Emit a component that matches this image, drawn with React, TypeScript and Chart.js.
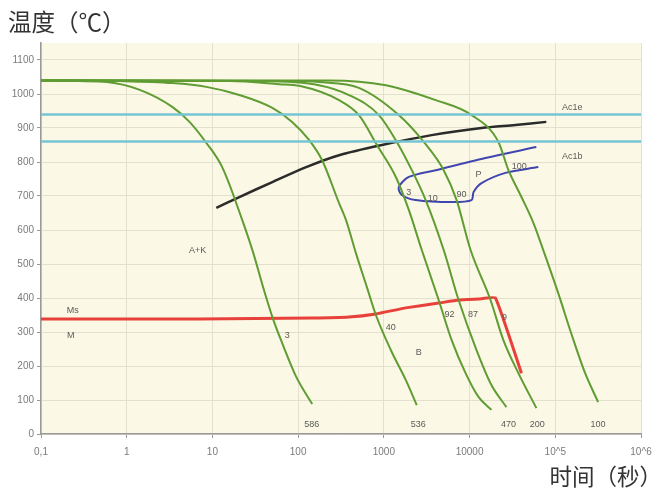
import React, { useEffect, useRef } from 'react';
import { Chart, registerables } from 'chart.js';

Chart.register(...registerables);

// ---- axes ----
const xTickValues = [0.1, 1, 10, 100, 1000, 10000, 100000, 1000000];
const xTickLabels = ['0,1', '1', '10', '100', '1000', '10000', '10^5', '10^6'];
const yTickValues = [0, 100, 200, 300, 400, 500, 600, 700, 800, 900, 1000, 1100];

// ---- critical temperatures ----
const ac1eTemp = 940;
const ac1bTemp = 860;

// ---- cooling curves: [time s, temperature °C] ----
const curve586: [number, number][] = [
  [0.1, 1040], [0.28, 1038], [0.59, 1035], [1.42, 1012], [3.4, 962], [5.4, 918], [8.5, 856],
  [13, 785], [22.3, 629], [30, 532], [39, 432], [51, 338], [65, 268], [95, 168], [146, 88],
];
const curve536: [number, number][] = [
  [0.1, 1040], [0.83, 1038], [3.4, 1032], [8.5, 1021], [20.6, 997], [50, 959], [85, 918], [134, 865],
  [190, 806], [300, 679], [362, 629], [472, 532], [634, 432], [807, 350], [1205, 247], [1800, 159], [2420, 85],
];
const curve3: [number, number][] = [
  [0.1, 1040], [15.8, 1038], [60, 1029], [103, 1024], [300, 982], [512, 938], [830, 850], [1380, 756],
  [1955, 659], [2770, 541], [4360, 394], [6180, 276], [8980, 179], [12700, 109], [18000, 71],
];
const curve470: [number, number][] = [
  [0.1, 1040], [35, 1038], [175, 1026], [392, 997], [875, 938], [1416, 859], [2120, 776], [3076, 688],
  [4990, 541], [7450, 394], [12050, 247], [18000, 144], [26900, 79],
];
const curve200: [number, number][] = [
  [0.1, 1040], [78, 1038], [175, 1035], [512, 1018], [1493, 938], [2920, 859], [4990, 776], [7060, 688],
  [10280, 541], [17550, 394], [24800, 276], [37100, 179], [60200, 76],
];
const curve100: [number, number][] = [
  [0.1, 1040], [229, 1040], [1055, 1026], [4030, 982], [10540, 938], [21700, 859], [28400, 776],
  [40300, 697], [55500, 621], [72400, 541], [108000, 415], [153000, 297], [223000, 179], [316000, 94],
];

// ---- transformation lines ----
const ac3Line: [number, number][] = [
  [11.1, 665], [20.6, 697], [50, 741], [124, 785], [300, 820], [948, 850], [3610, 879],
  [13800, 900], [34300, 909], [78500, 918],
];
const pearliteLine: [number, number][] = [
  [60100, 844], [15300, 812], [4030, 776], [1955, 756], [1494, 726], [1620, 703], [2356, 688],
  [6180, 682], [10540, 688], [11140, 712], [13800, 738], [26200, 768], [63400, 785],
];
const msLine: [number, number][] = [
  [0.1, 338], [7, 338], [145, 341], [392, 344], [807, 353], [1800, 371], [4360, 385], [7450, 394],
  [12700, 397], [20050, 400], [40300, 179],
];

// ---- annotations ----
const noteTexts = ['Ac1e', 'Ac1b', 'A+K', 'Ms', 'M', '3', '40', 'B', '92', '87', '9', 'P', '100', '3', '10', '90', '586', '536', '470', '200', '100'];
const noteTimes = [158000, 158000, 6.7, 0.235, 0.223, 74.5, 1205, 2550, 5850, 11000, 25500, 12700, 38100, 1955, 3715, 8070, 144, 2520, 28400, 61800, 316000];
const noteTemps = [959, 815, 541, 362, 291, 291, 312, 241, 350, 350, 344, 762, 788, 709, 694, 703, 29, 29, 29, 29, 29];

const yTitle = '温度（℃）';
const xTitle = '时间（秒）';

const toPts = (a: [number, number][]) => a.map(([x, y]) => ({ x, y }));

export default function App() {
  const ref = useRef<HTMLCanvasElement>(null);

  useEffect(() => {
    const canvas = ref.current;
    if (!canvas) return;
    const green = '#5f9c33';
    const cyan = '#74c5d3';

    const lineDs = (data: [number, number][], color: string, width: number, extra: any = {}) => ({
      data: toPts(data),
      borderColor: color,
      backgroundColor: color,
      borderWidth: width,
      showLine: true,
      pointRadius: 0,
      fill: false,
      ...extra,
    });

    const bgPlugin = {
      id: 'bg',
      beforeDraw(chart: any) {
        const { ctx, chartArea } = chart;
        ctx.save();
        ctx.fillStyle = '#ffffff';
        ctx.fillRect(0, 0, chart.width, chart.height);
        ctx.fillStyle = '#fbf9e5';
        ctx.fillRect(chartArea.left, chartArea.top, chartArea.right - chartArea.left, chartArea.bottom - chartArea.top);
        ctx.restore();
      },
    };

    const textPlugin = {
      id: 'texts',
      afterDatasetsDraw(chart: any) {
        const { ctx, scales } = chart;
        ctx.save();
        ctx.fillStyle = '#5a5a5a';
        ctx.font = '9px "Liberation Sans", Arial, sans-serif';
        ctx.textAlign = 'center';
        ctx.textBaseline = 'middle';
        noteTexts.forEach((t, i) => {
          ctx.fillText(t, scales.x.getPixelForValue(noteTimes[i]), scales.y.getPixelForValue(noteTemps[i]));
        });
        ctx.restore();
      },
      afterDraw(chart: any) {
        const { ctx } = chart;
        ctx.save();
        ctx.fillStyle = '#333333';
        ctx.textBaseline = 'middle';
        ctx.font = '23.5px "Noto Sans CJK SC", sans-serif';
        ctx.textAlign = 'left';
        ctx.fillText(yTitle, 8, 22);
        ctx.font = '22.5px "Noto Sans CJK SC", sans-serif';
        ctx.textAlign = 'right';
        ctx.fillText(xTitle, 662, 476);
        ctx.restore();
      },
    };

    const chart = new Chart(canvas, {
      type: 'scatter',
      data: {
        datasets: [
          lineDs([[0.1, ac1eTemp], [1000000, ac1eTemp]], cyan, 2.5),
          lineDs([[0.1, ac1bTemp], [1000000, ac1bTemp]], cyan, 2.5),
          lineDs(curve586, green, 2, { cubicInterpolationMode: 'monotone' }),
          lineDs(curve536, green, 2, { cubicInterpolationMode: 'monotone' }),
          lineDs(curve3, green, 2, { cubicInterpolationMode: 'monotone' }),
          lineDs(curve470, green, 2, { cubicInterpolationMode: 'monotone' }),
          lineDs(curve200, green, 2, { cubicInterpolationMode: 'monotone' }),
          lineDs(curve100, green, 2, { cubicInterpolationMode: 'monotone' }),
          lineDs(ac3Line, '#2b2b2b', 2.5, { tension: 0.3 }),
          lineDs(pearliteLine, '#4145b0', 2, { tension: 0.3 }),
          lineDs(msLine, '#e8403a', 3, { tension: 0.1 }),
        ],
      },
      options: {
        responsive: false,
        maintainAspectRatio: false,
        animation: false,
        layout: { padding: { left: 0, top: 43, right: 13, bottom: 0 } },
        plugins: {
          legend: { display: false },
          tooltip: { enabled: false },
        },
        scales: {
          x: {
            type: 'logarithmic',
            min: 0.1,
            max: 1000000,
            afterBuildTicks: (s: any) => {
              s.ticks = xTickValues.map((v) => ({ value: v }));
            },
            afterFit: (s: any) => {
              s.height = 59;
              s.paddingLeft = 0;
              s.paddingRight = 0;
            },
            ticks: {
              autoSkip: false,
              maxRotation: 0,
              padding: 8,
              color: '#7a7a7a',
              font: { size: 10, family: '"Liberation Sans", Arial, sans-serif' },
              callback: (_v: any, i: number) => xTickLabels[i],
            },
            grid: { color: '#e3e0cf', tickLength: 4, tickColor: '#999999', lineWidth: 1 },
            border: { color: '#9a9a9a', width: 1.5 },
          },
          y: {
            min: 0,
            max: 1150,
            afterBuildTicks: (s: any) => {
              s.ticks = yTickValues.map((v) => ({ value: v }));
            },
            afterFit: (s: any) => {
              s.width = 41;
              s.paddingTop = 0;
              s.paddingBottom = 0;
            },
            ticks: {
              padding: 3,
              color: '#7a7a7a',
              font: { size: 10, family: '"Liberation Sans", Arial, sans-serif' },
              callback: (v: any) => String(v),
            },
            grid: { color: '#e3e0cf', tickLength: 4, tickColor: '#999999', lineWidth: 1 },
            border: { color: '#9a9a9a', width: 1.5 },
          },
        },
      } as any,
      plugins: [bgPlugin, textPlugin],
    });

    return () => chart.destroy();
  }, []);

  return (
    <div style={{ position: 'fixed', left: 0, top: 0, width: 654, height: 493, background: '#fff' }}>
      <canvas ref={ref} width={654} height={493} style={{ display: 'block', width: 654, height: 493 }} />
    </div>
  );
}
